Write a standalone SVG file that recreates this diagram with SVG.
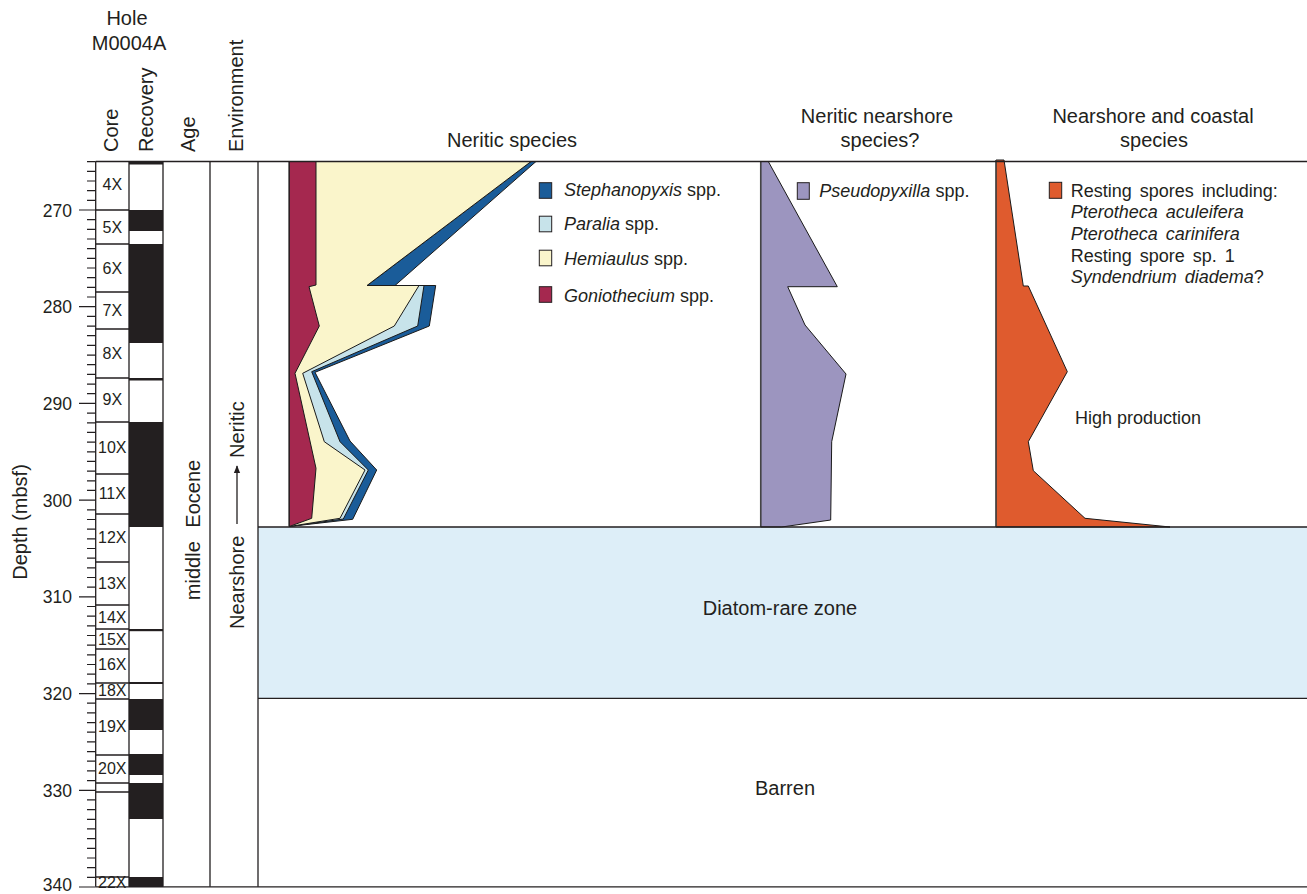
<svg xmlns="http://www.w3.org/2000/svg" width="1307" height="894" viewBox="0 0 1307 894">
<style>
.t{font-family:"Liberation Sans",Arial,Helvetica,sans-serif;fill:#231f20}
.ln{stroke:#231f20;stroke-width:1.3;fill:none}
.tk{stroke:#231f20;stroke-width:1.2;fill:none}
.core{font-size:16px;text-anchor:middle}
.dep{font-size:17.5px;text-anchor:end}
.hd{font-size:20px}
.hc{font-size:20px;text-anchor:middle}
.lg{font-size:18px}
.it{font-style:italic}
.pl{stroke:#1a1a1a;stroke-width:1;stroke-linejoin:miter}
.blk{fill:#231f20}
.sw{stroke:#231f20;stroke-width:1}
</style>
<defs>
<marker id="arr" viewBox="0 0 10 10" refX="9" refY="5" markerWidth="8" markerHeight="8" orient="auto" markerUnits="userSpaceOnUse">
<path d="M0,1 L10,5 L0,9 Z" fill="#231f20"/>
</marker>
</defs>

<g id="header-left">
<text class="t hc" x="127" y="25">Hole</text>
<text class="t hc" x="129" y="50">M0004A</text>
<text class="t hd" transform="translate(118,152) rotate(-90)">Core</text>
<text class="t hd" transform="translate(153,152) rotate(-90)">Recovery</text>
<text class="t hd" transform="translate(195,152) rotate(-90)">Age</text>
<text class="t hd" transform="translate(243,152) rotate(-90)">Environment</text>
</g>

<g id="depth-axis">
<text class="t hd" text-anchor="middle" transform="translate(27,522) rotate(-90)">Depth (mbsf)</text>
<path class="tk" d="M79 210H95.7M79 306.7H95.7M79 403.4H95.7M79 500.1H95.7M79 596.8H95.7M79 693.6H95.7M79 790.3H95.7M79 887H95.7"/>
<path class="tk" d="M87 161.6H95.7M87 171.3H95.7M87 181H95.7M87 190.7H95.7M87 200.3H95.7M87 219.7H95.7M87 229.3H95.7M87 239H95.7M87 248.7H95.7M87 258.4H95.7M87 268H95.7M87 277.7H95.7M87 287.4H95.7M87 297H95.7M87 316.4H95.7M87 326.1H95.7M87 335.7H95.7M87 345.4H95.7M87 355.1H95.7M87 364.7H95.7M87 374.4H95.7M87 384.1H95.7M87 393.7H95.7M87 413.1H95.7M87 422.8H95.7M87 432.4H95.7M87 442.1H95.7M87 451.8H95.7M87 461.4H95.7M87 471.1H95.7M87 480.8H95.7M87 490.4H95.7M87 509.8H95.7M87 519.5H95.7M87 529.1H95.7M87 538.8H95.7M87 548.5H95.7M87 558.1H95.7M87 567.8H95.7M87 577.5H95.7M87 587.2H95.7M87 606.5H95.7M87 616.2H95.7M87 625.8H95.7M87 635.5H95.7M87 645.2H95.7M87 654.9H95.7M87 664.5H95.7M87 674.2H95.7M87 683.9H95.7M87 703.2H95.7M87 712.9H95.7M87 722.6H95.7M87 732.2H95.7M87 741.9H95.7M87 751.6H95.7M87 761.2H95.7M87 770.9H95.7M87 780.6H95.7M87 799.9H95.7M87 809.6H95.7M87 819.3H95.7M87 828.9H95.7M87 838.6H95.7M87 848.3H95.7M87 858H95.7M87 867.6H95.7M87 877.3H95.7"/>
<text class="t dep" x="72" y="216.5">270</text>
<text class="t dep" x="72" y="313.2">280</text>
<text class="t dep" x="72" y="409.9">290</text>
<text class="t dep" x="72" y="506.6">300</text>
<text class="t dep" x="72" y="603.3">310</text>
<text class="t dep" x="72" y="700.1">320</text>
<text class="t dep" x="72" y="796.8">330</text>
<text class="t dep" x="72" y="891">340</text>
</g>

<g id="recovery">
<rect class="blk" x="129" y="161.5" width="34" height="3"/>
<rect class="blk" x="129" y="210" width="34" height="21"/>
<rect class="blk" x="129" y="244" width="34" height="99"/>
<rect class="blk" x="129" y="378" width="34" height="2.5"/>
<rect class="blk" x="129" y="422" width="34" height="105"/>
<rect class="blk" x="129" y="629" width="34" height="2.2"/>
<rect class="blk" x="129" y="682" width="34" height="2"/>
<rect class="blk" x="129" y="699" width="34" height="31"/>
<rect class="blk" x="129" y="754" width="34" height="21"/>
<rect class="blk" x="129" y="783" width="34" height="36"/>
<rect class="blk" x="129" y="877" width="34" height="10"/>
</g>

<g id="core">
<path class="ln" d="M95.7 210H129M95.7 244H129M95.7 292H129M95.7 329H129M95.7 378H129M95.7 422H129M95.7 474H129M95.7 514H129M95.7 562H129M95.7 605H129M95.7 629H129M95.7 649H129M95.7 683H129M95.7 699H129M95.7 755H129M95.7 783H129M95.7 792H129M95.7 877H129"/>
<text class="t core" x="112.3" y="190">4X</text>
<text class="t core" x="112.3" y="233">5X</text>
<text class="t core" x="112.3" y="274">6X</text>
<text class="t core" x="112.3" y="316">7X</text>
<text class="t core" x="112.3" y="358.5">8X</text>
<text class="t core" x="112.3" y="405">9X</text>
<text class="t core" x="112.3" y="452.5">10X</text>
<text class="t core" x="112.3" y="498.5">11X</text>
<text class="t core" x="112.3" y="542.5">12X</text>
<text class="t core" x="112.3" y="588.5">13X</text>
<text class="t core" x="112.3" y="623">14X</text>
<text class="t core" x="112.3" y="644.5">15X</text>
<text class="t core" x="112.3" y="670">16X</text>
<text class="t core" x="112.3" y="696">18X</text>
<text class="t core" x="112.3" y="732">19X</text>
<text class="t core" x="112.3" y="774">20X</text>
<text class="t core" x="112.3" y="887.5">22X</text>
</g>

<g id="age">
<text class="t hd" text-anchor="middle" word-spacing="8" transform="translate(200,530) rotate(-90)">middle Eocene</text>
</g>

<g id="environment">
<text class="t hd" transform="translate(244,629) rotate(-90)">Nearshore</text>
<text class="t hd" transform="translate(244,458) rotate(-90)">Neritic</text>
</g>

<g id="zones">
<rect x="258" y="527" width="1049" height="171" fill="#ddeef8"/>
<text class="t hd" x="780" y="615" text-anchor="middle">Diatom-rare zone</text>
<text class="t hd" x="785" y="795" text-anchor="middle">Barren</text>
</g>

<g id="neritic-species">
<text class="t hc" x="512" y="147">Neritic species</text>
<path class="pl" fill="#1a5c99" d="M289.3,161.5 L536,161.5 L395,285.5 L435.7,285.5 L429.3,326 L315,372.3 L350,441 L376.7,470 L352.7,519.3 L289.3,526.5 Z"/>
<path class="pl" fill="#c7e3ea" d="M289.3,161.5 L531,161.5 L367,285.5 L424,285.5 L417.7,326 L311.7,371.7 L340,441.7 L368.3,470 L343.3,519 L289.3,526.5 Z"/>
<path class="pl" fill="#faf5cb" d="M289.3,161.5 L531,161.5 L367,285.5 L419,285.5 L394.3,326 L302.7,373.3 L324.3,441.7 L365,470 L340,518.3 L289.3,526.5 Z"/>
<path class="pl" fill="#a5284f" d="M289.3,161.5 L316,161.5 L316,285 L309,286.7 L319.3,326 L295,373.3 L316,468.3 L311.7,518.3 L289.3,526.5 Z"/>
<rect class="sw" x="539.3" y="182.7" width="12.4" height="15.6" fill="#1a5c99"/>
<rect class="sw" x="539.3" y="216.2" width="12.4" height="15.6" fill="#c7e3ea"/>
<rect class="sw" x="539.3" y="250.2" width="12.4" height="15.6" fill="#faf5cb"/>
<rect class="sw" x="539.3" y="286.7" width="12.4" height="15.6" fill="#a5284f"/>
<text class="t lg" x="564" y="195.7"><tspan class="it">Stephanopyxis</tspan> spp.</text>
<text class="t lg" x="564" y="230"><tspan class="it">Paralia</tspan> spp.</text>
<text class="t lg" x="564" y="265"><tspan class="it">Hemiaulus</tspan> spp.</text>
<text class="t lg" x="564" y="302"><tspan class="it">Goniothecium</tspan> spp.</text>
</g>

<g id="neritic-nearshore">
<text class="t hc" x="877" y="123">Neritic nearshore</text>
<text class="t hc" x="880" y="147">species?</text>
<path class="pl" fill="#9c95bf" stroke="#333" d="M760.7,161.5 L768.3,161.5 L837.3,286.7 L787.7,286.7 L805,325 L846,374 L831.7,441.7 L830.7,520 L781.7,527 L760.7,527 Z"/>
<line x1="760.7" y1="161.5" x2="760.7" y2="527" stroke="#444" stroke-width="1.5"/>
<rect class="sw" x="797.3" y="182.7" width="12" height="16.6" fill="#9c95bf"/>
<text class="t lg" x="819.3" y="196.7"><tspan class="it">Pseudopyxilla</tspan> spp.</text>
</g>

<g id="nearshore-coastal">
<text class="t hc" x="1153" y="123">Nearshore and coastal</text>
<text class="t hc" x="1154" y="147">species</text>
<path class="pl" fill="#df5b2e" d="M996,160 L1004,160 L1023.3,286 L1028.3,286 L1067.3,371.7 L1028.3,441.7 L1033.3,470.7 L1085,518.3 L1170,527 L996,527 Z"/>
<line x1="996" y1="160" x2="996" y2="527" stroke="#444" stroke-width="1.3"/>
<rect class="sw" x="1049.3" y="182.3" width="12.4" height="16" fill="#df5b2e"/>
<text class="t lg" x="1070.7" y="196.7" word-spacing="3">Resting spores including:</text>
<text class="t lg it" x="1070.7" y="218.3" word-spacing="3">Pterotheca aculeifera</text>
<text class="t lg it" x="1070.7" y="240" word-spacing="3">Pterotheca carinifera</text>
<text class="t lg" x="1070.7" y="261.7" word-spacing="3">Resting spore sp. 1</text>
<text class="t lg" x="1070.7" y="283.3" word-spacing="3"><tspan class="it">Syndendrium diadema</tspan>?</text>
<text class="t lg" x="1075" y="424">High production</text>
</g>

<g id="connectors">
<path class="ln" d="M95.7 161.5H1307"/>
<path class="ln" d="M95.7 886.8H1307"/>
<path class="ln" d="M95.7 161.5V886.8M129 161.5V886.8M163 161.5V886.8M210 161.5V886.8M258 161.5V886.8"/>
<path class="ln" d="M258 527H1307M258 698.3H1307"/>
<line x1="237" y1="524" x2="237" y2="466" stroke="#231f20" stroke-width="1.3" marker-end="url(#arr)"/>
</g>
</svg>
